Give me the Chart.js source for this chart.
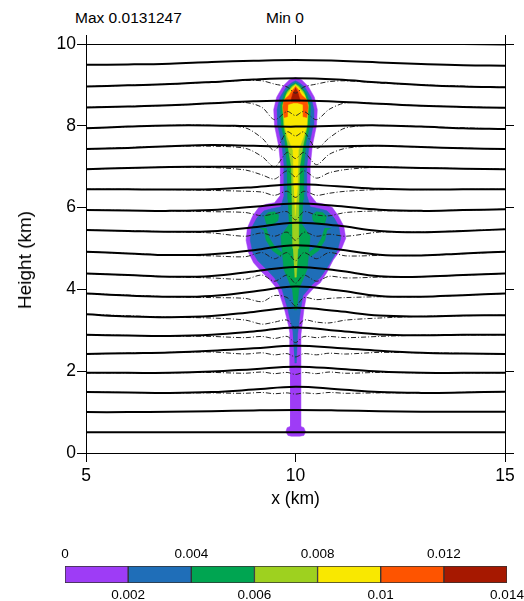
<!DOCTYPE html>
<html>
  <head>
    <meta charset="utf-8">
    <title>Plume and streamlines</title>
    <style>
        body {
            margin: 0;
            background: #fff;
            font-family: 'Liberation Sans', Arial, sans-serif;
        }
        #wrap {
            position: relative;
            width: 524px;
            height: 601px;
        }
        .note {
            position: absolute;
            top: 10px;
            font-size: 15.5px;
            line-height: 16px;
            color: #000;
            white-space: nowrap;
        }
        #ytitle {
            position: absolute;
            left: 25px;
            top: 260px;
            font-size: 19px;
            line-height: 20px;
            color: #000;
            white-space: nowrap;
            transform: translate(-50%, -50%) rotate(-90deg);
        }
    </style>
    <script src="https://cdn.jsdelivr.net/npm/chart.js@4.4.1/dist/chart.umd.min.js"></script>
  </head>
  <body>
  <div id="wrap">
    <div class="note" style="left: 75px;">Max 0.0131247</div>
    <div class="note" style="left: 266px;">Min 0</div>
    <canvas id="plot" width="524" height="520" style="position:absolute; left:0; top:0;"></canvas>
    <div id="ytitle">Height (km)</div>
    <canvas id="scale" width="524" height="61" style="position:absolute; left:0; top:540px;"></canvas>
  </div>

  <script type="text/javascript">
    // streamlines (solid), heights in km at these x positions
    const xStream = [5, 6, 7, 8, 9, 10, 11, 12, 13, 14, 15];
    const streamY = [
      [10.00, 10.00, 10.00, 10.00, 10.00, 10.00, 10.00, 10.00, 10.00, 10.00, 9.99],
      [9.49, 9.50, 9.52, 9.56, 9.59, 9.61, 9.59, 9.55, 9.51, 9.48, 9.47],
      [8.96, 8.99, 9.02, 9.07, 9.13, 9.16, 9.13, 9.06, 9.00, 8.96, 8.94],
      [8.45, 8.47, 8.50, 8.55, 8.60, 8.62, 8.59, 8.54, 8.49, 8.46, 8.44],
      [7.94, 7.98, 8.01, 8.01, 7.99, 7.98, 8.00, 8.01, 7.98, 7.94, 7.92],
      [7.43, 7.46, 7.50, 7.53, 7.51, 7.49, 7.50, 7.51, 7.48, 7.45, 7.43],
      [6.94, 6.97, 6.99, 7.00, 7.00, 7.00, 7.00, 6.99, 6.97, 6.95, 6.94],
      [6.45, 6.45, 6.44, 6.45, 6.50, 6.57, 6.52, 6.46, 6.44, 6.45, 6.45],
      [5.94, 5.93, 5.92, 5.94, 6.02, 6.10, 6.04, 5.95, 5.92, 5.94, 5.96],
      [5.45, 5.43, 5.41, 5.42, 5.52, 5.63, 5.56, 5.43, 5.40, 5.43, 5.47],
      [4.92, 4.88, 4.84, 4.86, 4.96, 5.08, 4.98, 4.85, 4.83, 4.88, 4.92],
      [4.39, 4.35, 4.31, 4.33, 4.44, 4.55, 4.46, 4.32, 4.31, 4.35, 4.39],
      [3.90, 3.85, 3.82, 3.84, 3.95, 4.07, 3.98, 3.84, 3.82, 3.86, 3.90],
      [3.39, 3.34, 3.32, 3.35, 3.45, 3.55, 3.47, 3.36, 3.34, 3.36, 3.37],
      [2.89, 2.87, 2.86, 2.89, 2.97, 3.07, 2.99, 2.90, 2.88, 2.89, 2.89],
      [2.42, 2.44, 2.46, 2.50, 2.56, 2.62, 2.57, 2.50, 2.45, 2.43, 2.42],
      [1.96, 1.96, 1.96, 1.99, 2.05, 2.11, 2.06, 1.99, 1.96, 1.96, 1.96],
      [1.49, 1.48, 1.47, 1.49, 1.55, 1.62, 1.56, 1.49, 1.47, 1.48, 1.50],
      [1.00, 1.00, 1.01, 1.02, 1.04, 1.05, 1.04, 1.02, 1.01, 1.01, 1.01],
      [0.51, 0.51, 0.51, 0.51, 0.51, 0.51, 0.51, 0.51, 0.51, 0.51, 0.51]
    ];

    // thin dash-dot streamlines
    const xDash = [5, 7, 8, 8.8, 9.2, 9.5, 9.8, 10, 10.2, 10.5, 10.8, 11.2, 12, 13, 15];
    const dashY = [
      [8.96, 9.02, 9.07, 9.11, 9.10, 9.02, 8.95, 8.80, 8.95, 9.02, 9.08, 9.10, 9.05, 9.00, 8.94],
      [8.45, 8.50, 8.55, 8.57, 8.45, 8.15, 8.35, 8.25, 8.35, 8.15, 8.40, 8.56, 8.54, 8.49, 8.44],
      [7.94, 8.01, 8.01, 7.95, 7.70, 7.40, 7.85, 7.75, 7.85, 7.45, 7.70, 7.95, 8.01, 7.98, 7.92],
      [7.43, 7.50, 7.50, 7.45, 7.25, 7.00, 7.35, 7.20, 7.35, 7.05, 7.30, 7.45, 7.51, 7.48, 7.43],
      [6.94, 6.99, 6.98, 6.92, 6.80, 6.70, 6.90, 6.75, 6.90, 6.72, 6.85, 6.93, 6.99, 6.97, 6.94],
      [6.45, 6.44, 6.42, 6.40, 6.38, 6.30, 6.40, 6.25, 6.40, 6.30, 6.35, 6.40, 6.44, 6.44, 6.45],
      [5.94, 5.92, 5.90, 5.88, 5.80, 5.85, 5.90, 5.70, 5.90, 5.82, 5.80, 5.88, 5.92, 5.92, 5.96],
      [5.45, 5.41, 5.38, 5.30, 5.38, 5.30, 5.40, 5.20, 5.40, 5.30, 5.35, 5.30, 5.40, 5.40, 5.47],
      [4.92, 4.84, 4.82, 4.80, 4.90, 4.75, 4.90, 4.70, 4.90, 4.75, 4.90, 4.82, 4.83, 4.83, 4.92],
      [4.39, 4.31, 4.28, 4.25, 4.35, 4.20, 4.35, 4.15, 4.35, 4.20, 4.32, 4.28, 4.30, 4.31, 4.39],
      [3.90, 3.82, 3.80, 3.78, 3.70, 3.85, 3.80, 3.60, 3.80, 3.75, 3.78, 3.80, 3.82, 3.82, 3.90],
      [3.39, 3.32, 3.30, 3.25, 3.15, 3.20, 3.25, 3.05, 3.25, 3.20, 3.18, 3.25, 3.30, 3.34, 3.37],
      [2.89, 2.86, 2.85, 2.82, 2.85, 2.80, 2.85, 2.70, 2.85, 2.82, 2.85, 2.82, 2.85, 2.88, 2.89],
      [2.42, 2.46, 2.47, 2.42, 2.45, 2.40, 2.43, 2.35, 2.43, 2.40, 2.44, 2.42, 2.46, 2.45, 2.42],
      [1.96, 1.96, 1.97, 1.95, 1.98, 1.94, 1.97, 1.92, 1.97, 1.94, 1.98, 1.95, 1.97, 1.96, 1.96],
      [1.49, 1.47, 1.47, 1.46, 1.48, 1.45, 1.47, 1.44, 1.47, 1.45, 1.48, 1.46, 1.47, 1.47, 1.50]
    ];

    // filled contour outlines, [x km, height km]
    const purpleEdge = [[9.87,0.65],[9.8,0.62],[9.77,0.52],[9.82,0.43],[9.9,0.41],[10.1,0.41],[10.2,0.43],[10.24,0.52],[10.2,0.62],[10.13,0.65],
      [10.13,2.0],[10.13,2.9],[10.2,3.5],[10.26,3.83],[10.45,4.05],[10.59,4.16],[10.74,4.4],[10.9,4.72],[11.1,5.0],[11.2,5.25],[11.15,5.55],
      [11.02,5.8],[10.88,6.0],[10.7,6.08],[10.5,6.12],[10.36,6.3],[10.35,7.0],[10.4,7.5],[10.5,8.0],[10.52,8.4],[10.45,8.7],[10.3,8.97],[10.15,9.12],[10.0,9.18],
      [9.85,9.12],[9.7,8.97],[9.55,8.7],[9.48,8.4],[9.5,8.0],[9.6,7.5],[9.65,7.0],[9.64,6.3],[9.5,6.12],[9.3,6.08],[9.12,6.0],[8.98,5.8],[8.85,5.5],
      [8.82,5.2],[8.88,4.9],[9.0,4.65],[9.2,4.42],[9.39,4.23],[9.59,3.98],[9.74,3.5],[9.84,3.09],[9.87,2.9],[9.87,2.0]];
    const blueEdge = [[9.98,2.2],[10.02,2.2],[10.05,2.9],[10.12,3.5],[10.18,3.85],[10.4,4.12],[10.6,4.3],[10.8,4.6],[11.0,4.95],[11.08,5.25],[11.03,5.55],
      [10.92,5.75],[10.75,5.92],[10.55,5.98],[10.35,6.02],[10.27,6.3],[10.27,7.0],[10.32,7.5],[10.42,8.0],[10.44,8.4],[10.37,8.7],[10.22,8.95],[10.08,9.06],[10.0,9.1],
      [9.92,9.06],[9.78,8.95],[9.63,8.7],[9.56,8.4],[9.58,8.0],[9.68,7.5],[9.73,7.0],[9.73,6.3],[9.65,6.02],[9.45,5.98],[9.25,5.92],[9.08,5.75],[8.95,5.5],
      [8.92,5.2],[8.98,4.9],[9.1,4.7],[9.3,4.5],[9.5,4.28],[9.68,4.0],[9.82,3.5],[9.93,3.0]];
    const greenEdge = [[9.97,3.5],[10.03,3.5],[10.08,4.0],[10.28,4.5],[10.35,5.3],[10.15,5.6],[10.18,6.2],[10.2,7.0],[10.25,7.6],[10.34,8.0],[10.36,8.5],
      [10.26,8.8],[10.12,8.98],[10.0,9.05],[9.88,8.98],[9.74,8.8],[9.64,8.5],[9.66,8.0],[9.75,7.6],[9.8,7.0],[9.82,6.2],[9.85,5.6],[9.65,5.3],[9.72,4.5],[9.92,4.0]];
    const greenBlobs = [
      [[9.3,5.6],[9.45,5.58],[9.58,5.68],[9.6,5.82],[9.5,5.9],[9.35,5.88],[9.25,5.78]],
      [[10.7,5.6],[10.55,5.58],[10.42,5.68],[10.4,5.82],[10.5,5.9],[10.65,5.88],[10.75,5.78]],
      [[9.15,5.5],[9.25,5.45],[9.3,5.2],[9.45,4.95],[9.65,4.8],[9.68,4.9],[9.5,5.05],[9.38,5.25],[9.3,5.5]],
      [[10.85,5.5],[10.75,5.45],[10.7,5.2],[10.55,4.95],[10.35,4.8],[10.32,4.9],[10.5,5.05],[10.62,5.25],[10.7,5.5]]
    ];
    const limeEdge = [[9.98,4.3],[10.02,4.3],[10.06,5.0],[10.08,6.0],[10.1,7.0],[10.18,7.5],[10.28,8.0],[10.31,8.5],[10.2,8.82],[10.08,8.97],[10.0,9.02],
      [9.92,8.97],[9.8,8.82],[9.69,8.5],[9.72,8.0],[9.82,7.5],[9.9,7.0],[9.92,6.0],[9.94,5.0]];
    const yellowEdge = [[9.99,5.8],[10.01,5.8],[10.05,6.5],[10.07,7.4],[10.18,7.7],[10.27,8.0],[10.29,8.5],[10.22,8.75],[10.08,8.93],[10.0,9.0],
      [9.92,8.93],[9.78,8.75],[9.71,8.5],[9.74,8.0],[9.82,7.7],[9.94,7.4],[9.96,6.5]];
    const orangeEdge = [[10.0,8.97],[10.07,8.88],[10.15,8.75],[10.28,8.63],[10.3,8.45],[10.27,8.2],[10.2,8.22],[10.18,8.52],[10.05,8.56],[9.95,8.56],
      [9.82,8.52],[9.8,8.22],[9.73,8.2],[9.7,8.45],[9.72,8.63],[9.85,8.75],[9.93,8.88]];
    const redEdge = [[10.0,8.93],[10.06,8.8],[10.1,8.66],[10.1,8.6],[9.9,8.6],[9.9,8.66],[9.94,8.8]];

    // colour scale
    const levelEdges = [0, 0.002, 0.004, 0.006, 0.008, 0.01, 0.012, 0.014];
    const levelColors = ['#9E3CF6', '#1F6EB8', '#00A551', '#9ED11F', '#F9E800', '#FE5400', '#A61800'];

    Chart.defaults.font.family = "'Liberation Sans', Arial, sans-serif";
    Chart.defaults.color = '#000';

    function polygon(pts, color, order) {
      return {
        data: pts.map(p => ({x: p[0], y: p[1]})),
        showLine: true,
        fill: 'shape',
        backgroundColor: color,
        borderColor: color,
        borderWidth: 0.5,
        pointRadius: 0,
        tension: 0,
        order: order
      };
    }

    var datasets = [];
    streamY.forEach(ys => {
      datasets.push({
        data: ys.map((y, i) => ({x: xStream[i], y: y})),
        showLine: true,
        borderColor: '#000',
        borderWidth: 2,
        pointRadius: 0,
        tension: 0.4,
        fill: false,
        order: 0
      });
    });
    dashY.forEach(ys => {
      datasets.push({
        data: ys.map((y, i) => ({x: xDash[i], y: y})),
        showLine: true,
        borderColor: '#222',
        borderWidth: 1,
        borderDash: [5, 2, 1, 2],
        pointRadius: 0,
        tension: 0.3,
        fill: false,
        order: 1
      });
    });
    datasets.push(polygon(redEdge, levelColors[6], 2));
    datasets.push(polygon(orangeEdge, levelColors[5], 3));
    datasets.push(polygon(yellowEdge, levelColors[4], 4));
    datasets.push(polygon(limeEdge, levelColors[3], 5));
    greenBlobs.forEach(b => datasets.push(polygon(b, levelColors[2], 6)));
    datasets.push(polygon(greenEdge, levelColors[2], 6));
    datasets.push(polygon(blueEdge, levelColors[1], 7));
    datasets.push(polygon(purpleEdge, levelColors[0], 8));

    const axisFont = {size: 17.5};
    const tickGrid = {drawOnChartArea: false, tickLength: 9, tickColor: '#000', color: '#000'};

    var chart = new Chart(document.getElementById('plot').getContext('2d'), {
      type: 'scatter',
      data: {datasets: datasets},
      options: {
        responsive: false,
        animation: false,
        events: [],
        layout: {padding: 0},
        plugins: {legend: {display: false}, tooltip: {enabled: false}},
        scales: {
          x: {
            type: 'linear', position: 'bottom', min: 5, max: 15,
            ticks: {stepSize: 5, font: axisFont, padding: 4, maxRotation: 0},
            grid: tickGrid,
            border: {color: '#000', width: 1},
            title: {display: true, text: 'x (km)', font: {size: 17.5}, padding: {top: 0, bottom: 10}},
            afterFit: s => { s.height = 67; }
          },
          xTop: {
            type: 'linear', position: 'top', min: 5, max: 15,
            ticks: {stepSize: 5, callback: () => ''},
            grid: tickGrid,
            border: {color: '#000', width: 1},
            afterFit: s => { s.height = 44; }
          },
          y: {
            type: 'linear', position: 'left', min: 0, max: 10,
            ticks: {stepSize: 2, font: axisFont, padding: 1},
            grid: tickGrid,
            border: {color: '#000', width: 1},
            afterFit: s => { s.width = 86; }
          },
          yRight: {
            type: 'linear', position: 'right', min: 0, max: 10,
            ticks: {stepSize: 2, callback: () => ''},
            grid: tickGrid,
            border: {color: '#000', width: 1},
            afterFit: s => { s.width = 19; }
          }
        }
      }
    });

    function fmt(v) {
      return parseFloat(v.toFixed(3)).toString();
    }

    // colour bar: label overflow must not shrink the bar
    function barAxisFit(h) {
      return s => { s.height = h; s.paddingLeft = 0; s.paddingRight = 0; };
    }

    var bar = new Chart(document.getElementById('scale').getContext('2d'), {
      type: 'bar',
      data: {
        labels: ['level'],
        datasets: levelColors.map((c, i) => ({
          data: [[levelEdges[i], levelEdges[i + 1]]],
          backgroundColor: c,
          borderColor: '#333',
          borderWidth: 1,
          borderSkipped: false,
          grouped: false,
          barPercentage: 1,
          categoryPercentage: 1
        }))
      },
      options: {
        responsive: false,
        animation: false,
        events: [],
        indexAxis: 'y',
        layout: {padding: {left: 65, right: 17, top: 0, bottom: 0}},
        plugins: {legend: {display: false}, tooltip: {enabled: false}},
        scales: {
          x: {
            type: 'linear', position: 'bottom', min: 0, max: 0.014,
            ticks: {stepSize: 0.002, font: {size: 13.5}, padding: 4, maxRotation: 0, autoSkip: false,
                    callback: (v, i) => i % 2 === 1 ? fmt(v) : ''},
            grid: {display: false, drawTicks: false},
            border: {display: false},
            afterFit: barAxisFit(18)
          },
          xTop: {
            type: 'linear', position: 'top', min: 0, max: 0.014,
            ticks: {stepSize: 0.002, font: {size: 13.5}, padding: 4, maxRotation: 0, autoSkip: false,
                    callback: (v, i) => i % 2 === 0 ? fmt(v) : ''},
            grid: {display: false, drawTicks: false},
            border: {display: false},
            afterFit: barAxisFit(26)
          },
          y: {display: false}
        }
      }
    });
  </script>
  </body>
</html>
